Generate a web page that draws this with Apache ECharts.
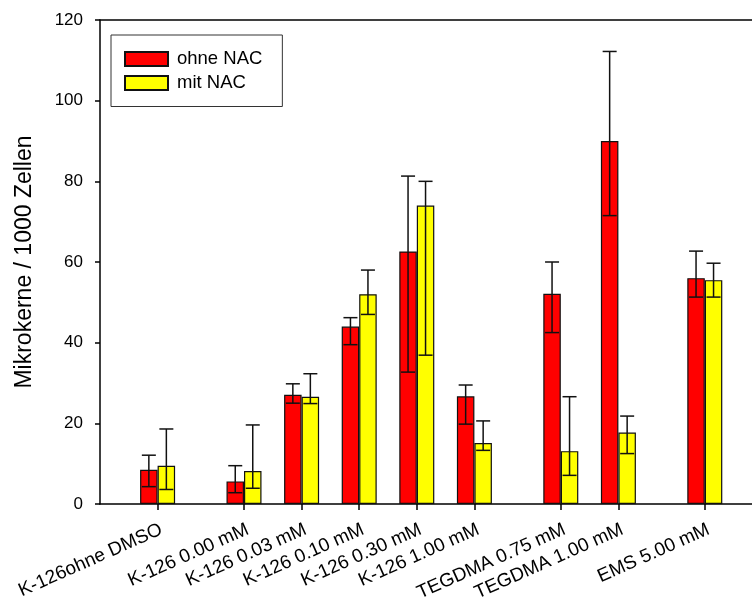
<!DOCTYPE html>
<html>
<head>
<meta charset="utf-8">
<script src="https://cdn.jsdelivr.net/npm/echarts@6/dist/echarts.min.js"></script>
<style>html,body{margin:0;padding:0;background:#fff;}#chart{width:752px;height:597px;}</style>
</head>
<body>
<div id="chart"></div>
<script>
// Axis slots (blank entries create the wider gaps between groups)
const categories = ['', '', 'K-126ohne DMSO', '', '', 'K-126 0.00 mM', '', 'K-126 0.03 mM', '', 'K-126 0.10 mM', '', 'K-126 0.30 mM', '', 'K-126 1.00 mM', '', '', 'TEGDMA 0.75 mM', '', 'TEGDMA 1.00 mM', '', '', 'EMS 5.00 mM', '', ''];
const groups = ['K-126ohne DMSO', 'K-126 0.00 mM', 'K-126 0.03 mM', 'K-126 0.10 mM', 'K-126 0.30 mM', 'K-126 1.00 mM', 'TEGDMA 0.75 mM', 'TEGDMA 1.00 mM', 'EMS 5.00 mM'];
const ohneNAC  = [8.5, 5.6, 27.1, 44.0, 62.6, 26.7, 52.1, 90.0, 56.0];
const ohneLow  = [4.3, 2.8, 25.0, 39.5, 32.7, 19.8, 42.5, 71.5, 51.3];
const ohneHigh = [12.1, 9.5, 29.8, 46.2, 81.3, 29.5, 60.0, 112.2, 62.7];
const mitNAC   = [9.5, 8.2, 26.6, 52.0, 74.0, 15.1, 13.1, 17.7, 55.5];
const mitLow   = [3.6, 3.9, 24.9, 47.0, 36.9, 13.3, 7.1, 12.5, 51.3];
const mitHigh  = [18.6, 19.6, 32.3, 58.0, 80.0, 20.6, 26.6, 21.8, 59.7];
const yTicks = { min: 0, max: 120, interval: 20 };

const FONT = 'Liberation Sans, Arial, sans-serif';
const BAR_W = 17.5;
const CAP = 14;

const idx = g => categories.indexOf(g);
const barData = vals => groups.map((g, i) => [idx(g), vals[i]]);
const errData = (lo, hi) => groups.map((g, i) => [idx(g), lo[i], hi[i]]);

function errRender(offset) {
  return function (params, api) {
    const x = api.coord([api.value(0), 0])[0] + offset;
    const yl = api.coord([api.value(0), api.value(1)])[1];
    const yh = api.coord([api.value(0), api.value(2)])[1];
    const st = { stroke: '#111', lineWidth: 1.5 };
    return {
      type: 'group',
      children: [
        { type: 'line', shape: { x1: x, y1: yl, x2: x, y2: yh }, style: st },
        { type: 'line', shape: { x1: x - CAP / 2, y1: yh, x2: x + CAP / 2, y2: yh }, style: st },
        { type: 'line', shape: { x1: x - CAP / 2, y1: yl, x2: x + CAP / 2, y2: yl }, style: st }
      ]
    };
  };
}

const chart = echarts.init(document.getElementById('chart'), null, { renderer: 'canvas' });
chart.setOption({
  animation: false,
  backgroundColor: '#fff',
  textStyle: { fontFamily: FONT },
  grid: { left: 100, top: 20, width: 23 * 28.8, height: 484, containLabel: false, outerBoundsMode: 'none' },
  legend: {
    orient: 'vertical',
    left: 111, top: 35,
    icon: 'rect',
    itemWidth: 43, itemHeight: 14, itemGap: 5,
    padding: [14.5, 20, 14, 13],
    borderColor: '#333', borderWidth: 1,
    textStyle: { fontFamily: FONT, fontSize: 18.5, color: '#000', padding: [0, 0, 0, 4] },
    data: ['ohne NAC', 'mit NAC']
  },
  xAxis: [{
    type: 'category',
    data: categories,
    boundaryGap: false,
    axisLine: { lineStyle: { color: '#000', width: 1.5 } },
    axisTick: { show: true, length: 6, inside: false, interval: (i, v) => v !== '', lineStyle: { color: '#000', width: 1.5 } },
    axisLabel: { interval: 0, rotate: 24, margin: 16, align: 'right', verticalAlign: 'top', fontFamily: FONT, fontSize: 19, color: '#000' },
    splitLine: { show: false }
  }, {
    type: 'category',
    data: categories,
    boundaryGap: false,
    position: 'top',
    axisLine: { lineStyle: { color: '#000', width: 1.5 } },
    axisTick: { show: false },
    axisLabel: { show: false },
    splitLine: { show: false }
  }],
  yAxis: {
    type: 'value',
    min: yTicks.min, max: yTicks.max, interval: yTicks.interval,
    name: 'Mikrokerne / 1000 Zellen',
    nameLocation: 'middle',
    nameGap: 64,
    nameTextStyle: { fontFamily: FONT, fontSize: 23, color: '#000' },
    axisLine: { show: true, lineStyle: { color: '#000', width: 1.5 } },
    axisTick: { show: true, length: 5, inside: false, lineStyle: { color: '#000', width: 1.5 } },
    axisLabel: { margin: 17, fontFamily: FONT, fontSize: 17, color: '#000' },
    splitLine: { show: false }
  },
  series: [
    {
      name: 'ohne NAC', type: 'bar', data: barData(ohneNAC),
      barWidth: BAR_W, barGap: '0%',
      itemStyle: { color: '#ff0000', borderColor: '#111', borderWidth: 1.2 }
    },
    {
      name: 'mit NAC', type: 'bar', data: barData(mitNAC),
      barWidth: BAR_W, barGap: '0%',
      itemStyle: { color: '#ffff00', borderColor: '#111', borderWidth: 1.2 }
    },
    {
      type: 'custom', renderItem: errRender(-BAR_W / 2), data: errData(ohneLow, ohneHigh),
      encode: { x: 0, y: [1, 2] }, z: 10, silent: true
    },
    {
      type: 'custom', renderItem: errRender(BAR_W / 2), data: errData(mitLow, mitHigh),
      encode: { x: 0, y: [1, 2] }, z: 10, silent: true
    }
  ]
});
</script>
</body>
</html>
